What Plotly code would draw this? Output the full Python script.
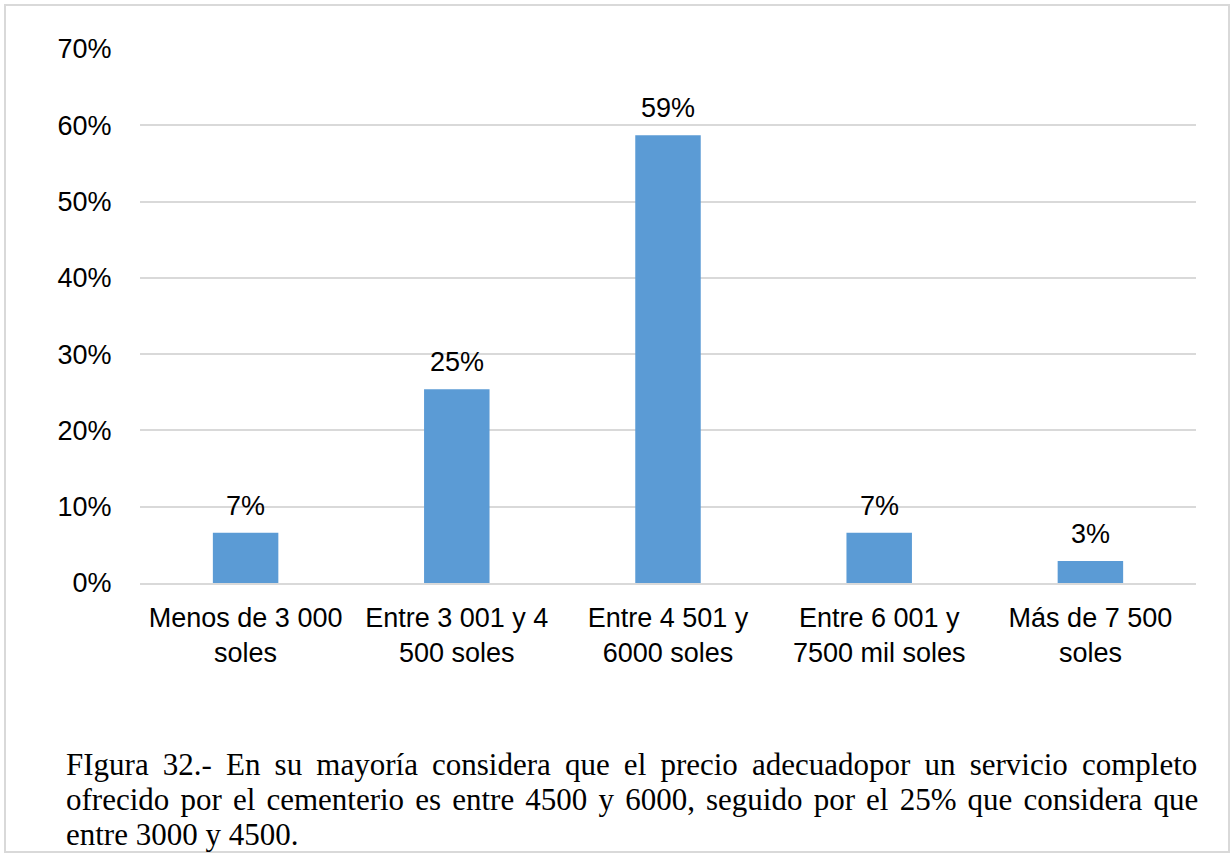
import plotly.graph_objects as go

# Price ranges considered adequate for a complete cemetery service
categories = [
    "Menos de 3 000<br>soles",
    "Entre 3 001 y 4<br>500 soles",
    "Entre 4 501 y<br>6000 soles",
    "Entre 6 001 y<br>7500 mil soles",
    "Más de 7 500<br>soles",
]
shares = [0.066, 0.254, 0.587, 0.066, 0.029]

y_ticks = [0, 0.1, 0.2, 0.3, 0.4, 0.5, 0.6, 0.7]

caption_lines = [
    "FIgura 32.- En su mayoría considera que el precio adecuadopor un servicio completo",
    "ofrecido por el cementerio es entre 4500 y 6000, seguido por el 25% que considera que",
    "entre 3000 y 4500.",
]
# extra space between words so the first two caption lines are justified
caption_word_spacing = [6.4, 3.4, 0]

W, H = 1232, 856
ML, MR, MT, MB = 140, 36, 49, 273
PW, PH = W - ML - MR, H - MT - MB
SANS = "Liberation Sans, Arial"
SERIF = "Liberation Serif, Times New Roman"


def px_x(x):
    return (x - ML) / PW


def px_y(y):
    return (H - MB - y) / PH


fig = go.Figure(
    go.Bar(
        x=categories,
        y=shares,
        marker=dict(color="#5B9BD5", line=dict(width=0)),
        hoverinfo="x+y",
    )
)

annotations = []
# value labels above each bar
for cat, v in zip(categories, shares):
    annotations.append(
        dict(
            x=cat,
            y=v,
            xref="x",
            yref="y",
            text=f"{v:.0%}",
            showarrow=False,
            yanchor="middle",
            yshift=27,
            font=dict(family=SANS, size=27, color="#000000"),
        )
    )

# caption below the chart
for i, (line, ws) in enumerate(zip(caption_lines, caption_word_spacing)):
    text = f'<span style="word-spacing:{ws}px">{line}</span>' if ws else line
    annotations.append(
        dict(
            text=text,
            xref="paper",
            yref="paper",
            x=px_x(64),
            y=px_y(764 + 35 * i),
            xanchor="left",
            yanchor="middle",
            showarrow=False,
            font=dict(family=SERIF, size=31, color="#000000"),
        )
    )

fig.update_layout(
    width=W,
    height=H,
    margin=dict(l=ML, r=MR, t=MT, b=MB),
    paper_bgcolor="#ffffff",
    plot_bgcolor="#ffffff",
    bargap=0.69,
    showlegend=False,
    annotations=annotations,
    shapes=[
        dict(
            type="rect",
            xref="paper",
            yref="paper",
            x0=px_x(5),
            x1=px_x(1229),
            y0=px_y(5),
            y1=px_y(852),
            line=dict(color="#d9d9d9", width=2),
            fillcolor="rgba(0,0,0,0)",
            layer="below",
        )
    ],
    xaxis=dict(
        tickfont=dict(family=SANS, size=27, color="#000000"),
        showline=True,
        linecolor="#d9d9d9",
        linewidth=1.5,
        ticks="",
        ticklabelstandoff=10,
        showgrid=False,
    ),
    yaxis=dict(
        range=[0, 0.7],
        tickvals=y_ticks,
        tickformat=".0%",
        tickfont=dict(family=SANS, size=27, color="#000000"),
        showgrid=True,
        gridcolor="#d9d9d9",
        gridwidth=1.5,
        zeroline=False,
        ticks="outside",
        ticklen=22,
        tickcolor="rgba(0,0,0,0)",
    ),
)

fig.write_html("out.html")
